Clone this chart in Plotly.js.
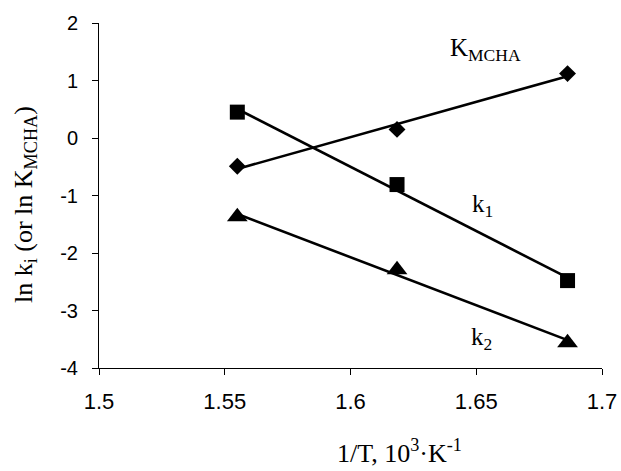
<!DOCTYPE html>
<html>
<head>
<meta charset="utf-8">
<script src="https://cdn.plot.ly/plotly-3.0.1.min.js"></script>
<style>html,body{margin:0;padding:0;background:#fff;}#chart{width:621px;height:471px;}</style>
</head>
<body>
<div id="chart"></div>
<script>
// Data
var invT = [1.555, 1.6185, 1.6863];          // 1/T, 10^3 K^-1
var lnK_MCHA = [-0.49, 0.15, 1.12];
var lnk1 = [0.45, -0.81, -2.48];
var lnk2 = [-1.37, -2.29, -3.56];

var xTickVals = [1.5, 1.55, 1.6, 1.65, 1.7];
var xTickText = ['1.5', '1.55', '1.6', '1.65', '1.7'];
var yTickVals = [-4, -3, -2, -1, 0, 1, 2];
var yTickText = ['-4', '-3', '-2', '-1', '0', '1', '2'];

// least-squares trendline over the data range
function fit(x, y) {
  var n = x.length, mx = 0, my = 0;
  for (var i = 0; i < n; i++) { mx += x[i]; my += y[i]; }
  mx /= n; my /= n;
  var sxy = 0, sxx = 0;
  for (var j = 0; j < n; j++) { sxy += (x[j]-mx)*(y[j]-my); sxx += (x[j]-mx)*(x[j]-mx); }
  var b = sxy / sxx, a = my - b*mx;
  var xs = [x[0], x[n-1]];
  return {x: xs, y: xs.map(function(v){ return a + b*v; })};
}

var series = [
  {name: 'K_MCHA', y: lnK_MCHA, symbol: 'diamond', size: 13},
  {name: 'k1', y: lnk1, symbol: 'square', size: 15},
  {name: 'k2', y: lnk2, symbol: 'triangle-up', size: 18}
];

var traces = [];
series.forEach(function(s) {
  var f = fit(invT, s.y);
  traces.push({x: f.x, y: f.y, mode: 'lines', line: {color: '#000', width: 2.6}, showlegend: false, hoverinfo: 'skip'});
  traces.push({x: invT, y: s.y, mode: 'markers', name: s.name,
    marker: {symbol: s.symbol, size: s.size, color: '#000'}, showlegend: false});
});

var serif = 'Liberation Serif, Times New Roman, serif';
var sans = 'Liberation Sans, Arial, sans-serif';

var layout = {
  width: 621, height: 471,
  margin: {l: 99, r: 19, t: 23, b: 103},
  paper_bgcolor: '#fff', plot_bgcolor: '#fff',
  showlegend: false,
  xaxis: {
    range: [1.5, 1.7], tickvals: xTickVals, ticktext: xTickText,
    ticks: 'outside', ticklen: 6, tickwidth: 1, tickcolor: '#000',
    showline: true, linecolor: '#000', linewidth: 1,
    showgrid: false, zeroline: false,
    tickfont: {family: sans, size: 22, color: '#000'},
    ticklabelstandoff: 8
  },
  yaxis: {
    range: [-4, 2], tickvals: yTickVals, ticktext: yTickText,
    ticks: 'outside', ticklen: 6, tickwidth: 1, tickcolor: '#000',
    showline: true, linecolor: '#000', linewidth: 1,
    showgrid: false, zeroline: false,
    tickfont: {family: sans, size: 20, color: '#000'},
    ticklabelstandoff: 10
  },
  annotations: [
    {text: 'K<sub>MCHA</sub>', x: 1.6537, y: 1.54, xref: 'x', yref: 'y', showarrow: false,
     font: {family: serif, size: 25, color: '#000'}},
    {text: 'k<sub>1</sub>', x: 1.6523, y: -1.18, xref: 'x', yref: 'y', showarrow: false,
     font: {family: serif, size: 25, color: '#000'}},
    {text: 'k<sub>2</sub>', x: 1.6519, y: -3.49, xref: 'x', yref: 'y', showarrow: false,
     font: {family: serif, size: 25, color: '#000'}},
    {text: '1/T, 10<sup>3</sup>·K<sup>-1</sup>', x: (399-99)/503, y: -(470-368)/345, xref: 'paper', yref: 'paper',
     showarrow: false, xanchor: 'center', yanchor: 'bottom', font: {family: serif, size: 26, color: '#000'}},
    {text: 'ln k<sub>i</sub> (or ln K<sub>MCHA</sub>)', x: -(99-25)/503, y: (368-205)/345, xref: 'paper', yref: 'paper',
     textangle: -90, showarrow: false, xanchor: 'center', yanchor: 'middle', font: {family: serif, size: 26, color: '#000'}}
  ]
};

Plotly.newPlot('chart', traces, layout, {displayModeBar: false, staticPlot: true});
</script>
</body>
</html>
